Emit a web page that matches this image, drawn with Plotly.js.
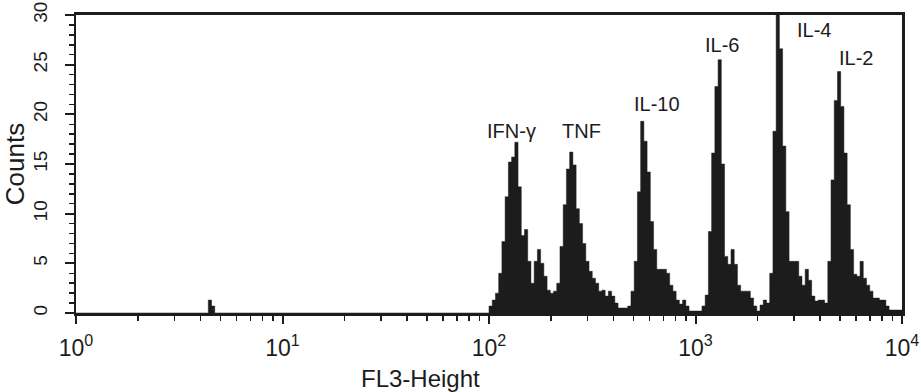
<!DOCTYPE html>
<html>
<head>
<meta charset="utf-8">
<script src="https://cdn.plot.ly/plotly-3.0.1.min.js"></script>
<style>html,body{margin:0;padding:0;background:#fff;}#chart{width:921px;height:392px;}</style>
</head>
<body>
<div id="chart"></div>
<script>
// ---- data (256-channel log histogram, 4 decades) ----
const totalChannels = 256;
const decades = 4;
const peakLabels = ['IFN-γ', 'TNF', 'IL-10', 'IL-6', 'IL-4', 'IL-2'];
const debrisChannels = [41, 42];
const debrisCounts = [1.3, 0.7];
const histStartChannel = 128;
const histCounts = [
  0.7, 1.3, 2, 4, 7.2, 11.7, 15.2, 15.7, 17.2, 12.7, 7.8, 8.4, 5.2, 3, 5.2, 6.4, 5, 3.7, 2.3, 2, 2.2,   // IFN-γ 128-148
  3, 6.7, 10.9, 14.5, 16.2, 14.9, 10.5, 9, 7, 5.2, 4.2, 3.5, 3, 2.2, 2.3, 1.7, 2.2, 1.7, 1, 0.5, 0.5, 0.5, // TNF 149-170
  0.7, 2.2, 5.2, 12.2, 19.3, 17.3, 14.2, 9.2, 6.4, 4.4, 4.4, 4.4, 4, 2.8, 2.2, 1.3, 0.9, 1.3, 0.7, 0.2, 0.2, 0.2, 0.2, // IL-10 171-193
  0.7, 1.8, 8.2, 16.1, 22.8, 25.5, 15, 5.7, 4.9, 6.4, 4.9, 2.8, 2.2, 2.2, 2.2, 1.5, 0.7, 0.2, 0.8, 1.3, 1, // IL-6 194-214
  4, 18.3, 32, 26.6, 16.8, 10.2, 5.2, 5.2, 5.2, 3.7, 2.8, 4.4, 3.3, 1.7, 1.2, 1.3, 1.3, 1, // IL-4 215-232
  5.2, 13.4, 21.4, 24.3, 20.8, 16.1, 10.9, 6.4, 3.9, 3.7, 5.2, 3.5, 2.8, 2.2, 1.5, 1.5, 1.3, 1.3, 0.7, 0.3, 0.3, 0.3, 0.3 // IL-2 233-255
];
// label anchor positions (log10 of FL3, counts)
const labelLogX = [2.111, 2.450, 2.813, 3.128, 3.574, 3.777];
const labelY = [18.3, 18.3, 21.05, 26.98, 28.5, 25.7];
const xTickVals = [1, 10, 100, 1000, 10000];
const xTickText = ['10<sup>0</sup>', '10<sup>1</sup>', '10<sup>2</sup>', '10<sup>3</sup>', '10<sup>4</sup>'];

// ---- build step histogram ----
const counts = new Array(totalChannels).fill(0);
debrisChannels.forEach((c, i) => { counts[c] = debrisCounts[i]; });
histCounts.forEach((v, i) => { counts[histStartChannel + i] = v; });
const edge = c => Math.pow(10, c * decades / totalChannels);
const xs = [], ys = [];
for (let c = 0; c < totalChannels; c++) { xs.push(edge(c)); ys.push(counts[c]); }
xs.push(edge(totalChannels)); ys.push(counts[totalChannels - 1]);

const minorVals = [];
for (let d = 0; d < decades; d++) for (let m = 2; m <= 9; m++) minorVals.push(m * Math.pow(10, d));

const ink = '#1c1c1c';
const font = 'Liberation Sans, Arial, Helvetica, sans-serif';

const trace = {
  type: 'scatter', mode: 'lines', x: xs, y: ys,
  line: {shape: 'hv', width: 0.5, color: ink},
  fill: 'tozeroy', fillcolor: ink, hoverinfo: 'skip'
};

const annotations = peakLabels.map((t, i) => ({
  text: t, x: labelLogX[i], y: labelY[i], xref: 'x', yref: 'y',
  showarrow: false, xanchor: 'center', yanchor: 'middle',
  font: {family: font, size: 20, color: ink}
}));
annotations.push({
  text: 'FL3-Height', xref: 'paper', yref: 'paper', x: 0.4165, y: -0.22,
  xanchor: 'center', yanchor: 'middle', showarrow: false,
  font: {family: font, size: 24, color: ink}
});

const layout = {
  width: 921, height: 392,
  margin: {l: 76, r: 19, t: 15, b: 79, pad: 0},
  paper_bgcolor: '#fff', plot_bgcolor: '#fff',
  showlegend: false,
  font: {family: font, color: ink},
  xaxis: {
    type: 'log', range: [0, 4], showgrid: false, zeroline: false,
    showline: true, linecolor: ink, linewidth: 3, mirror: true,
    ticks: 'outside', ticklen: 8, tickwidth: 2, tickcolor: ink,
    tickmode: 'array', tickvals: xTickVals, ticktext: xTickText,
    ticklabelstandoff: 4,
    tickfont: {family: font, size: 23, color: ink},
    minor: {tickmode: 'array', tickvals: minorVals, ticks: 'outside', ticklen: 5, tickwidth: 1.5, tickcolor: ink}
  },
  yaxis: {
    range: [0, 30], dtick: 5, tick0: 0, showgrid: false, zeroline: false,
    showline: true, linecolor: ink, linewidth: 2.5, mirror: true,
    ticks: 'outside', ticklen: 9, tickwidth: 2, tickcolor: ink, tickangle: -90,
    ticklabelstandoff: 10,
    tickfont: {family: font, size: 19, color: ink},
    minor: {dtick: 1, ticks: 'outside', ticklen: 5, tickwidth: 1.5, tickcolor: ink},
    title: {text: 'Counts', font: {family: font, size: 26, color: ink}, standoff: 2}
  },
  annotations: annotations
};

Plotly.newPlot('chart', [trace], layout, {staticPlot: true, displayModeBar: false});
</script>
</body>
</html>
